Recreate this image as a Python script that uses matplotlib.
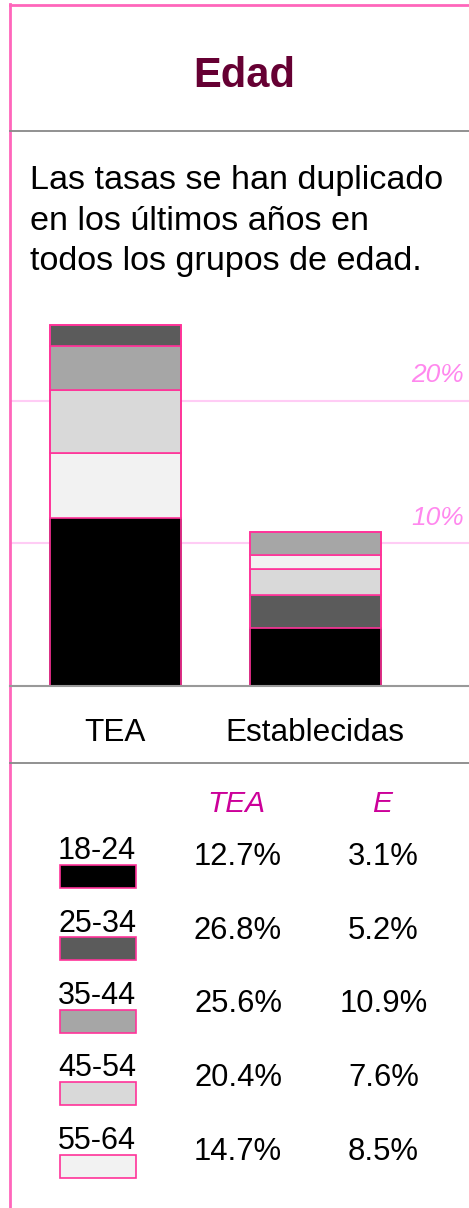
import matplotlib
matplotlib.use("Agg")
import matplotlib.pyplot as plt
from matplotlib.lines import Line2D
from matplotlib.patches import Rectangle

plt.rcParams['font.family'] = ['Liberation Sans', 'DejaVu Sans']

# ---- data ----
title = "Edad"
subtitle_lines = ["Las tasas se han duplicado", "en los últimos años en", "todos los grupos de edad."]
bar_categories = ["TEA", "Establecidas"]
# stacked segment heights (% of population), bottom to top
seg_colors = ["#000000", "#f2f2f2", "#d9d9d9", "#a6a6a6", "#5b5b5b"]
tea_segments = [11.75, 4.60, 4.37, 3.08, 1.49]
est_colors = ["#000000", "#5b5b5b", "#d9d9d9", "#f2f2f2", "#a6a6a6"]
est_segments = [4.04, 2.33, 1.80, 1.02, 1.61]
grid_values = [10, 20]
grid_labels = ["10%", "20%"]

age_groups = ["18-24", "25-34", "35-44", "45-54", "55-64"]
age_colors = ["#000000", "#5b5b5b", "#a6a6a6", "#d9d9d9", "#f2f2f2"]
tea_share = ["12.7%", "26.8%", "25.6%", "20.4%", "14.7%"]
est_share = ["3.1%", "5.2%", "10.9%", "7.6%", "8.5%"]
col_headers = ["TEA", "E"]

# ---- layout ----
W, H = 469, 1208
fig = plt.figure(figsize=(W / 100, H / 100), dpi=100)

def fx(x):
    return x / W

def fy(y):
    return 1 - y / H

PINK = "#ff3399"
BORDER = "#ff66bb"
GRAY = "#888888"

# borders
fig.add_artist(Line2D([fx(10), fx(10)], [fy(4), fy(1208)], color=BORDER, lw=2.0))
fig.add_artist(Line2D([fx(10), fx(469)], [fy(4.5), fy(4.5)], color=BORDER, lw=2.0))
# separators
for y in (130.7, 763.3):
    fig.add_artist(Line2D([fx(10), fx(469)], [fy(y), fy(y)], color=GRAY, lw=1.3))

# title and subtitle
fig.text(fx(244.5), fy(86.7), title, ha="center", va="baseline", fontsize=30,
         fontweight="bold", color="#660033")
for i, line in enumerate(subtitle_lines):
    fig.text(fx(30), fy(189 + 40.5 * i), line, ha="left", va="baseline",
             fontsize=24.6, color="#000000")

# bar axes
base_px, top_px = 686, 296
px_per_pct = 14.27
ax = fig.add_axes([fx(10), fy(base_px), fx(469) - fx(10), (base_px - top_px) / H])
ax.set_xlim(-0.5275, 1.7675)
ax.set_ylim(0, (base_px - top_px) / px_per_pct)
ax.axis("off")

for v, lab in zip(grid_values, grid_labels):
    ax.axhline(v, color="#ffccf5", lw=1.5, zorder=0)
    ax.text(1.7425, v + 1.3, lab, ha="right", va="baseline", fontsize=19,
            style="italic", color="#ff88ee")

for xi, (segs, cols) in enumerate([(tea_segments, seg_colors), (est_segments, est_colors)]):
    bottom = 0
    for h, c in zip(segs, cols):
        ax.bar(xi, h, bottom=bottom, width=0.655, color=c,
               edgecolor=PINK if c != "#000000" else c, lw=1.2, zorder=2)
        bottom += h
    # outline of the whole bar
    ax.add_patch(Rectangle((xi - 0.3275, 0), 0.655, bottom, fill=False,
                           edgecolor=PINK, lw=1.2, zorder=3))

fig.add_artist(Line2D([fx(10), fx(469)], [fy(686), fy(686)], color="#999999", lw=1.5))

# bar category labels
for cx, lab in zip([114.5, 315], bar_categories):
    fig.text(fx(cx), fy(741), lab, ha="center", va="baseline", fontsize=22.7, color="#000000")

# table
for cx, lab in zip([236, 382], col_headers):
    fig.text(fx(cx), fy(811.7), lab, ha="center", va="baseline", fontsize=21.5,
             style="italic", color="#cc0099")

row_step = 72.4
for i, (g, c, t, e) in enumerate(zip(age_groups, age_colors, tea_share, est_share)):
    yb = 859.3 + row_step * i
    fig.text(fx(97), fy(yb), g, ha="center", va="baseline", fontsize=22, color="#000000")
    fig.add_artist(Rectangle((fx(60), fy(yb + 28.7)), fx(136) - fx(60), 23 / H,
                             facecolor=c, edgecolor=PINK, lw=1.2,
                             transform=fig.transFigure))
    vy = yb + 6 + (1.2 * i)
    fig.text(fx(238), fy(vy), t, ha="center", va="baseline", fontsize=22.3, color="#000000")
    fig.text(fx(383.5), fy(vy), e, ha="center", va="baseline", fontsize=22.3, color="#000000")

fig.savefig("out.png", dpi=100)
